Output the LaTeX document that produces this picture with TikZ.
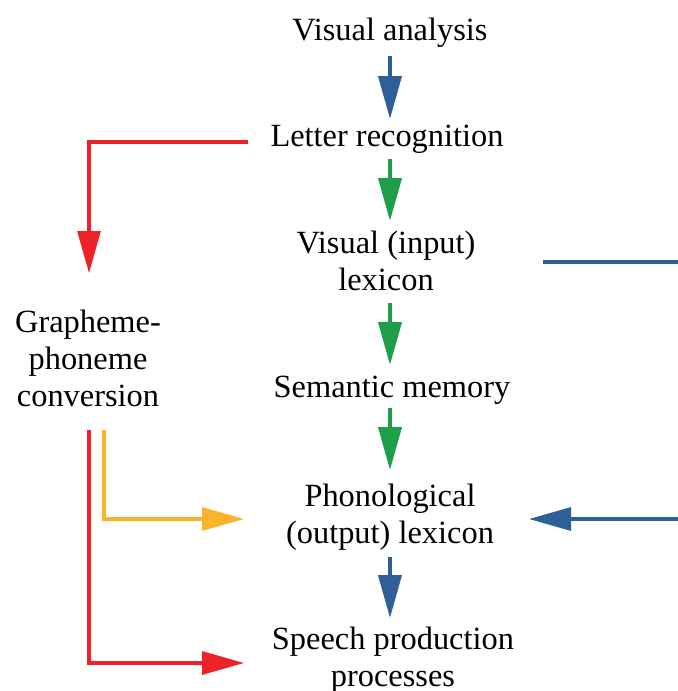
\documentclass[tikz,border=0pt]{standalone}
\usepackage{fontspec}
\setmainfont{Liberation Serif}
\usetikzlibrary{arrows.meta,calc}
\definecolor{cblue}{HTML}{2F5F97}
\definecolor{cgreen}{HTML}{1E9E48}
\definecolor{cred}{HTML}{EC2227}
\definecolor{cyellow}{HTML}{FBB42A}
\begin{document}
\begin{tikzpicture}[x=0.5pt,y=-0.5pt,
  lbl/.style={inner sep=0pt,anchor=base,align=center,font=\fontsize{16.2}{18.5}\selectfont},
  fat/.style={line width=2pt,-{Triangle[width=11.5pt,length=21.5pt]}},
  thin/.style={line width=1.6pt},
  thinarrow/.style={thin,-{Triangle[width=11.5pt,length=21pt]}}]
\useasboundingbox (0,0) rectangle (678,691);
% anchor=base is the baseline of the last line
\node[lbl] (va) at (390,40) {Visual analysis};
\node[lbl] (lr) at (387,146) {Letter recognition};
\node[lbl] (vil) at (386,290) {Visual (input)\\lexicon};
\node[lbl] (sm) at (392,397) {Semantic memory};
\node[lbl] (pol) at (390,543) {Phonological\\(output) lexicon};
\node[lbl] (spp) at (393,686) {Speech production\\processes};
\node[lbl] (gpc) at (88,406) {Grapheme-\\phoneme\\conversion};
% vertical arrows
\draw[fat,cblue] ($(va.base)+(0,16)$) -- ($(va.base |- lr.base)+(0,-27)$);
\draw[fat,cgreen] ($(va.base |- lr.base)+(0,13)$) -- ($(va.base |- vil.base)+(0,-69)$);
\draw[fat,cgreen] ($(va.base |- vil.base)+(0,13)$) -- ($(va.base |- sm.base)+(0,-32)$);
\draw[fat,cgreen] ($(va.base |- sm.base)+(0,11)$) -- ($(va.base |- pol.base)+(0,-73)$);
\draw[fat,cblue] ($(va.base |- pol.base)+(0,14)$) -- ($(va.base |- spp.base)+(0,-68)$);
% side connectors
\coordinate (rightedge1) at (678,262);
\coordinate (rightedge2) at (678,519);
\draw[thin,cblue,line width=1.8pt] ($(vil.base)+(157,-28)$) -- (rightedge1);
\draw[thinarrow,cblue] (rightedge2) -- ($(pol.base)+(139,-24)$);
\draw[thinarrow,cred] ($(lr.base)+(-139,-4)$) -| ($(gpc.base)+(1,-133)$);
\draw[thinarrow,cyellow] ($(gpc.base)+(16,24)$) |- ($(pol.base)+(-146,-24)$);
\draw[thinarrow,cred] ($(gpc.base)+(1,24)$) |- ($(spp.base)+(-149,-23)$);
\end{tikzpicture}
\end{document}
